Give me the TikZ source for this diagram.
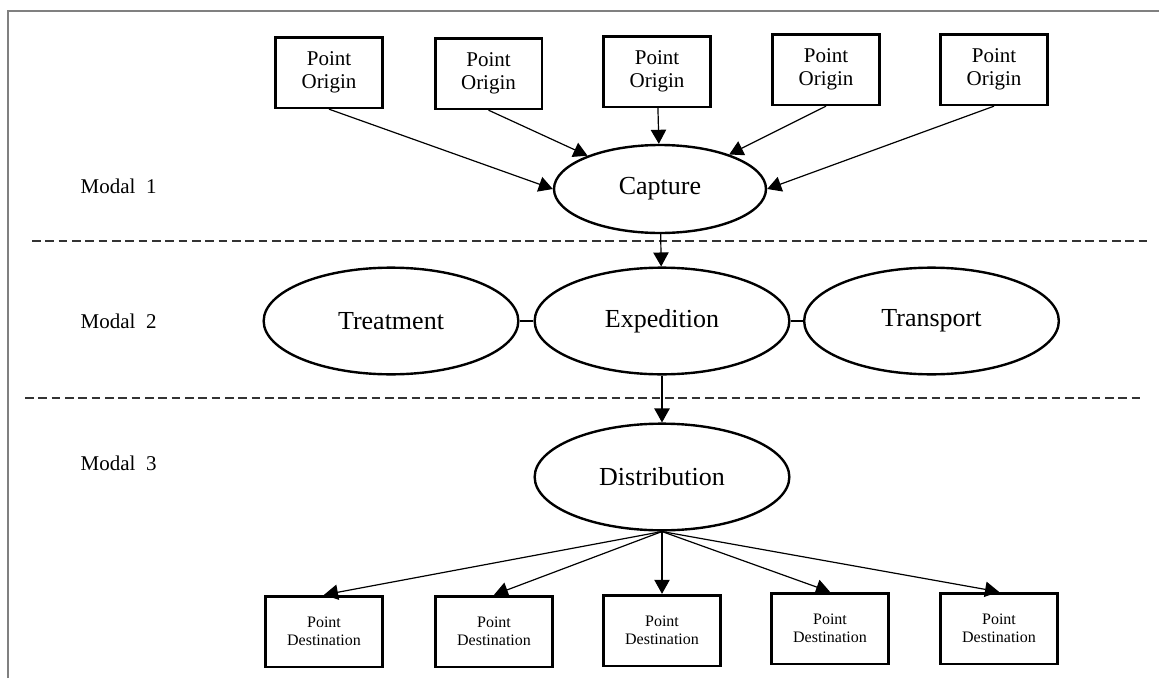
\documentclass[tikz,border=0pt]{standalone}
\usepackage{fontspec}
\setmainfont{Liberation Serif}
\usetikzlibrary{shapes.geometric,arrows.meta}
\begin{document}
\begin{tikzpicture}[x=0.75pt,y=-0.75pt,
  origin/.style={draw,line width=2pt,minimum width=80pt,minimum height=53pt,inner sep=0pt,align=center,font=\fontsize{15.75}{17.5}\selectfont},
  dest/.style={draw,line width=2pt,minimum width=88pt,minimum height=53pt,inner sep=0pt,align=center,font=\fontsize{12}{13.5}\selectfont},
  stage/.style={draw,ellipse,line width=1.8pt,inner sep=0pt,font=\fontsize{19.5}{22}\selectfont},
  bigstage/.style={stage,minimum width=191pt,minimum height=80pt},
  flow/.style={line width=0.9pt,-{Triangle[length=10.5pt,width=11.5pt]}},
  link/.style={line width=0.9pt},
  sep/.style={draw=black!80,line width=0.9pt,dash pattern=on 6.5pt off 3.5pt},
  modal/.style={anchor=west,font=\fontsize{15.75}{18}\selectfont}
]
\useasboundingbox (0,0) rectangle (1159,678);

% outer frame (top and left edges)
\draw[gray,line width=0.8pt] (8,678) -- (8,11) -- (1159,11);

% layer separators
\draw[sep] (32,241) -- (1148,241);
\draw[sep] (25,398) -- (1143,398);

% layer labels
\node[modal] (m1) at (76,186) {Modal\ \ 1};
\node[modal] (m2) at (76,321) {Modal\ \ 2};
\node[modal] (m3) at (76,463) {Modal\ \ 3};

% origins
\node[origin] (o1) at (329,72.5) {Point\\Origin};
\node[origin] (o2) at (488.5,73.5) {Point\\Origin};
\node[origin] (o3) at (657,71.5) {Point\\Origin};
\node[origin] (o4) at (826,69.5) {Point\\Origin};
\node[origin] (o5) at (994,69.5) {Point\\Origin};

% stages
\node[stage,minimum width=159pt,minimum height=66pt] (cap) at (660,189) {Capture};
\node[bigstage] (treat) at (391,321) {Treatment};
\node[bigstage] (exp) at (662,321) {Expedition};
\node[bigstage] (trans) at (931.5,321) {Transport};
\node[bigstage] (dist) at (662,477) {Distribution};

% destinations
\node[dest] (d1) at (324,631.5) {Point\\Destination};
\node[dest] (d2) at (494,631.5) {Point\\Destination};
\node[dest] (d3) at (662,630.5) {Point\\Destination};
\node[dest] (d4) at (830,628.5) {Point\\Destination};
\node[dest] (d5) at (999,628.5) {Point\\Destination};

% flows
\draw[flow] (o1.south) -- (cap.west);
\draw[flow] (o2.south) -- (cap);
\draw[flow] (o3) -- (cap);
\draw[flow] (o4.south) -- (cap);
\draw[flow] (o5.south) -- (cap.east);
\draw[flow] (cap) -- (exp);
\draw[link] (treat) -- (exp);
\draw[link] (exp) -- (trans);
\draw[flow] (exp) -- (dist);
\draw[flow] (dist.south) -- (d1.north);
\draw[flow] (dist.south) -- (d2.north);
\draw[flow] (dist.south) -- (d3.north);
\draw[flow] (dist.south) -- (d4.north);
\draw[flow] (dist.south) -- (d5.north);
\end{tikzpicture}
\end{document}
